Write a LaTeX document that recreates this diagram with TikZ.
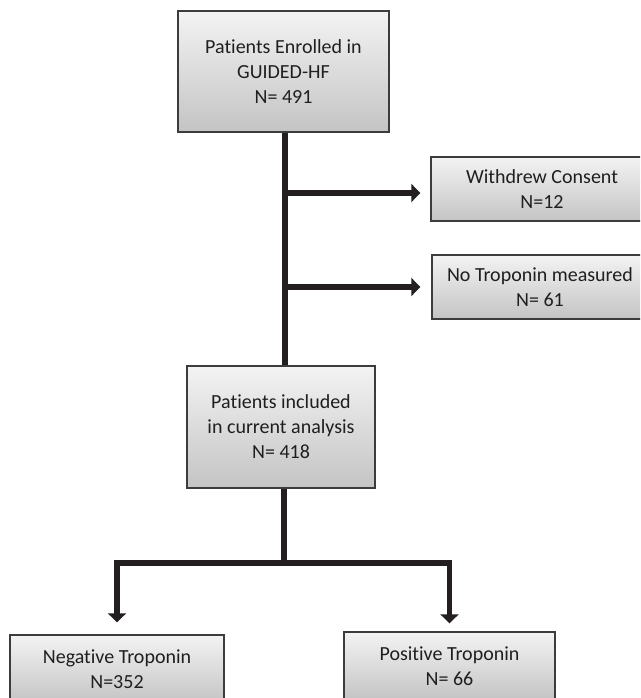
\documentclass[tikz,border=0pt]{standalone}
\usepackage{fontspec}
\setmainfont{Carlito}[Ligatures={NoCommon}]
\usetikzlibrary{arrows.meta}

\definecolor{boxtop}{RGB}{243,243,243}
\definecolor{boxbot}{RGB}{196,196,196}
\definecolor{boxline}{RGB}{60,60,60}
\definecolor{flowline}{RGB}{35,31,32}

\tikzset{
  flowbox/.style={draw=boxline, line width=1.4pt, top color=boxtop, bottom color=boxbot,
    align=center, inner sep=0pt, text=black!88,
    font=\fontsize{20}{25}\selectfont},
  flowline/.style={draw=flowline, line width=6pt},
  flowarrow/.style={flowline, -{Triangle[length=9pt,width=18pt]}}
}

\begin{document}
\begin{tikzpicture}[x=1pt, y=-1pt]
  % page frame
  \path[use as bounding box, clip] (0,0) rectangle (640,698);

  % Boxes
  \node[flowbox, minimum width=211pt, minimum height=121pt] (enrolled) at (283.5,71.5)
    {Patients Enrolled in\\GUIDED-HF\\N= 491};
  \node[flowbox, minimum width=222pt, minimum height=64pt] (withdrew) at (542,189)
    {Withdrew Consent\\N=12};
  \node[flowbox, minimum width=216pt, minimum height=64pt] (notrop) at (540,287)
    {No Troponin measured\\N= 61};
  \node[flowbox, minimum width=188pt, minimum height=122pt] (included) at (281,427)
    {Patients included\\in current analysis\\N= 418};
  \node[flowbox, minimum width=214pt, minimum height=68pt] (negative) at (117,669)
    {Negative Troponin\\N=352};
  \node[flowbox, minimum width=211pt, minimum height=68pt] (positive) at (449.5,666)
    {Positive Troponin\\N= 66};

  % Branch points
  \coordinate (b1) at (285,193);
  \coordinate (b2) at (285,287);
  \coordinate (split) at (284,563);

  % Main trunk and exclusions
  \draw[flowline] (enrolled.south -| b1) -- (included.north -| b1);
  \draw[flowarrow, shorten >=10pt] (b1) -- (b1 -| withdrew.west);
  \draw[flowarrow, shorten >=11pt] (b2) -- (b2 -| notrop.west);

  % Split by troponin
  \draw[flowline, line width=5.5pt] (included.south -| split) -- (split);
  \draw[flowarrow, line width=5.5pt, shorten >=12pt] (split) -| (negative.north);
  \draw[flowarrow, line width=5.5pt, shorten >=8pt] (split) -| (positive.north);

\end{tikzpicture}
\end{document}
